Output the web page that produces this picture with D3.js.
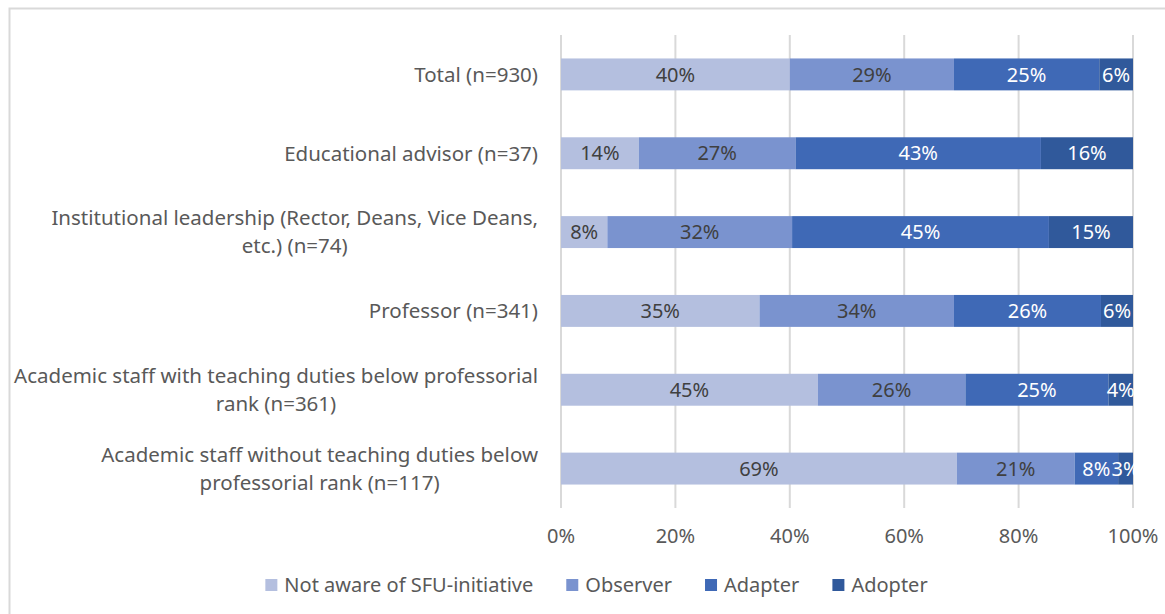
<!DOCTYPE html>
<html>
<head>
<meta charset="utf-8">
<script src="https://cdn.jsdelivr.net/npm/d3@7"></script>
<style>
  body { margin: 0; background: #fff; }
  text { font-family: "Noto Sans", sans-serif; }
</style>
</head>
<body>
<svg id="chart" width="1165" height="614"></svg>
<script>
// categories, top to bottom
var categories = [
  'Total (n=930)',
  'Educational advisor (n=37)',
  'Institutional leadership (Rector, Deans, Vice Deans,|etc.) (n=74)',
  'Professor (n=341)',
  'Academic staff with teaching duties below professorial|rank (n=361)',
  'Academic staff without teaching duties below|professorial rank (n=117)'
];

var seriesNames = ['Not aware of SFU-initiative', 'Observer', 'Adapter', 'Adopter'];
var seriesColors = ['#b4bfdf', '#7a93cf', '#3f69b6', '#30599b'];
var labelColors = ['#404040', '#404040', '#ffffff', '#ffffff'];

// percent shares per category, one array per series
var notAware = [40.0, 13.6, 8.1, 34.7, 44.9, 69.2];
var observer = [28.7, 27.4, 32.3, 34.0, 25.8, 20.6];
var adapter  = [25.4, 42.9, 44.9, 25.7, 25.0, 7.6];
var adopter  = [5.9, 16.1, 14.7, 5.6, 4.3, 2.6];

var xTicks = [0, 20, 40, 60, 80, 100];

var fs = 20;
var svg = d3.select('#chart');

// outer frame (chart area border)
svg.append('rect')
  .attr('x', 9.5).attr('y', 8.5)
  .attr('width', 1170).attr('height', 620)
  .attr('fill', 'none')
  .attr('stroke', '#d9d9d9')
  .attr('stroke-width', 2);

var x = d3.scaleLinear().domain([0, 100]).range([561, 1133]);
var y = d3.scaleBand().domain(d3.range(categories.length)).range([35, 508]).paddingInner(0.595).paddingOuter(0.2975);

// gridlines
svg.append('g').selectAll('line')
  .data(xTicks)
  .join('line')
  .attr('x1', function(d) { return x(d); })
  .attr('x2', function(d) { return x(d); })
  .attr('y1', 35).attr('y2', 508)
  .attr('stroke', '#d9d9d9')
  .attr('stroke-width', 2);

// stack the series
var rows = categories.map(function(c, i) {
  return { cat: i, s0: notAware[i], s1: observer[i], s2: adapter[i], s3: adopter[i] };
});
var stack = d3.stack().keys(['s0', 's1', 's2', 's3'])(rows);

var layers = svg.append('g').selectAll('g')
  .data(stack)
  .join('g')
  .attr('fill', function(d, i) { return seriesColors[i]; });

layers.selectAll('rect')
  .data(function(d) { return d; })
  .join('rect')
  .attr('x', function(d) { return x(d[0]); })
  .attr('width', function(d) { return x(d[1]) - x(d[0]); })
  .attr('y', function(d) { return y(d.data.cat); })
  .attr('height', y.bandwidth());

// value labels
stack.forEach(function(layer, li) {
  svg.append('g').selectAll('text')
    .data(layer)
    .join('text')
    .attr('x', function(d) { return (x(d[0]) + x(d[1])) / 2; })
    .attr('y', function(d) { return y(d.data.cat) + y.bandwidth() / 2; })
    .attr('dy', '0.36em')
    .attr('text-anchor', 'middle')
    .attr('font-size', fs)
    .attr('fill', labelColors[li])
    .text(function(d) { return Math.round(d[1] - d[0]) + '%'; });
});

// category labels (multi-line ones are centred as a block, right edge at 538)
var catG = svg.append('g');
categories.forEach(function(c, i) {
  var lines = c.split('|');
  var cy = y(i) + y.bandwidth() / 2;
  var lh = 28;
  var t = catG.append('text')
    .attr('font-size', 20.5)
    .attr('fill', '#595959');
  lines.forEach(function(l, k) {
    t.append('tspan')
      .attr('y', cy + (k - (lines.length - 1) / 2) * lh)
      .attr('dy', '0.36em')
      .text(l);
  });
  var maxW = 0;
  t.selectAll('tspan').each(function() {
    maxW = Math.max(maxW, this.getComputedTextLength());
  });
  t.attr('text-anchor', 'middle');
  t.selectAll('tspan').attr('x', 538 - maxW / 2);
});

// x axis tick labels
svg.append('g').selectAll('text')
  .data(xTicks)
  .join('text')
  .attr('x', function(d) { return x(d); })
  .attr('y', 536)
  .attr('dy', '0.36em')
  .attr('text-anchor', 'middle')
  .attr('font-size', fs)
  .attr('fill', '#595959')
  .text(function(d) { return d + '%'; });

// legend: laid out left to right, centred under the chart
var legend = svg.append('g');
var items = legend.selectAll('g')
  .data(seriesNames)
  .join('g');
items.append('rect')
  .attr('x', 0).attr('y', -6)
  .attr('width', 12).attr('height', 12)
  .attr('fill', function(d, i) { return seriesColors[i]; });
items.append('text')
  .attr('x', 19)
  .attr('dy', '0.36em')
  .attr('font-size', fs)
  .attr('fill', '#595959')
  .text(function(d) { return d; });
var cursor = 0;
items.each(function() {
  var w = d3.select(this).select('text').node().getComputedTextLength();
  d3.select(this).attr('transform', 'translate(' + cursor + ',0)');
  cursor += 19 + w + 33;
});
var legendW = cursor - 33;
legend.attr('transform', 'translate(' + (596.5 - legendW / 2) + ',585)');
</script>
</body>
</html>
